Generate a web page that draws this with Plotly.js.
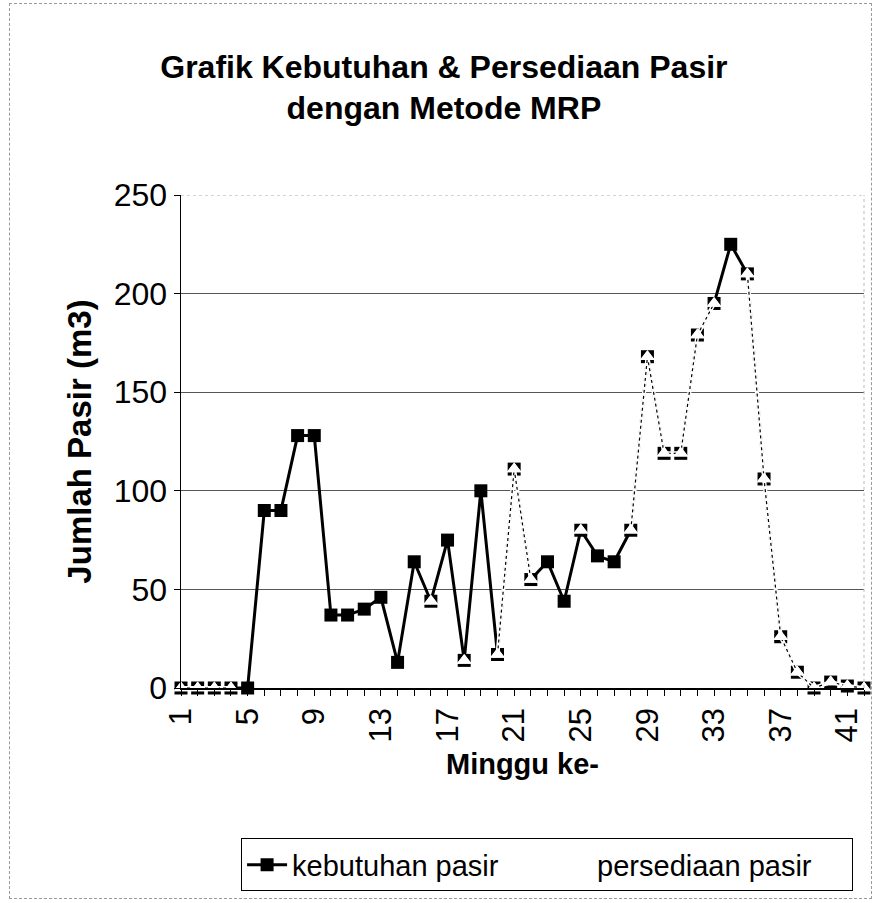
<!DOCTYPE html>
<html>
<head>
<meta charset="utf-8">
<script src="https://cdn.plot.ly/plotly-3.0.1.min.js"></script>
<style>
  html, body { margin: 0; padding: 0; background: #fff; }
  #wrap { position: relative; width: 879px; height: 903px; }
  #chart { position: absolute; left: 0; top: 0; width: 879px; height: 903px; }
  #frame { position: absolute; left: 9px; top: 3px; width: 861px; height: 894px; border: 1px dashed #9a9a9a; pointer-events: none; }
</style>
</head>
<body>
<div id="wrap">
  <div id="chart"></div>
  <div id="frame"></div>
</div>
<script>
// Minggu ke- (week number)
const weeks = [1,2,3,4,5,6,7,8,9,10,11,12,13,14,15,16,17,18,19,20,21,22,23,24,25,26,27,28,29,30,31,32,33,34,35,36,37,38,39,40,41,42];

// kebutuhan pasir (m3)
const kebutuhan = [0,0,0,0,0,90,90,128,128,37,37,40,46,13,64,44,75,14,100,17,111,55,64,44,80,67,64,80,168,119,119,179,195,225,210,106,26,8,0,3,1,0];

// persediaan pasir (m3) — only the weeks where it is shown
const persediaan = [0,0,0,0,null,null,null,null,null,null,null,null,null,null,null,44,null,14,null,17,111,55,null,null,80,null,null,80,168,119,119,179,195,null,210,106,26,8,0,3,1,0];

// axis tick labels
const xTickVals = [1,5,9,13,17,21,25,29,33,37,41];
const xTickText = ['1','5','9','13','17','21','25','29','33','37','41'];
const yTickVals = [0,50,100,150,200,250];
const yTickText = ['0','50','100','150','200','250'];

const FONT = 'Liberation Sans, Arial, Helvetica, sans-serif';

const traces = [
  {
    x: weeks, y: kebutuhan, name: 'kebutuhan pasir', type: 'scatter', mode: 'lines+markers',
    line: { color: '#000', width: 3 },
    marker: { symbol: 'square', size: 13, color: '#000' },
    cliponaxis: false
  },
  {
    x: weeks, y: persediaan, name: 'persediaan pasir', type: 'scatter', mode: 'lines+markers',
    line: { color: '#fff', width: 4 },
    marker: { symbol: 'triangle-up', size: 13, color: '#fff', line: { width: 0 } },
    connectgaps: false, cliponaxis: false
  },
  {
    x: weeks, y: persediaan, name: 'persediaan pasir', type: 'scatter', mode: 'lines+markers',
    showlegend: false,
    line: { color: '#000', width: 1.2, dash: 'dot' },
    marker: { symbol: 'triangle-up', size: 13, color: '#fff', line: { width: 0 } },
    connectgaps: false, cliponaxis: false
  }
];

const layout = {
  width: 879, height: 903,
  margin: { l: 181, r: 15, t: 195, b: 212 },
  paper_bgcolor: '#fff', plot_bgcolor: '#fff',
  font: { family: FONT, color: '#000' },
  showlegend: true,
  title: {
    text: 'Grafik Kebutuhan &amp; Persediaan Pasir<br>dengan Metode MRP',
    font: { family: FONT, size: 32, weight: 'bold', color: '#000' },
    x: 0.505, xref: 'container', xanchor: 'center',
    y: 0.914, yref: 'container', yanchor: 'top'
  },
  shapes: [
    { type: 'line', xref: 'paper', yref: 'y', x0: 0, x1: 1, y0: 250, y1: 250, line: { color: '#aaa', width: 1, dash: 'dot' } },
    { type: 'line', xref: 'paper', yref: 'paper', x0: 1, x1: 1, y0: 0, y1: 1, line: { color: '#bbb', width: 1, dash: 'dot' } }
  ],
  xaxis: {
    range: [1, 42],
    tickmode: 'array', tickvals: xTickVals, ticktext: xTickText,
    tickangle: -90,
    tickfont: { family: FONT, size: 31 },
    ticks: 'outside', ticklen: 6, tickcolor: '#000', tickwidth: 1,
    minor: { tickmode: 'linear', tick0: 1, dtick: 1, ticks: 'outside', ticklen: 6, tickcolor: '#000', showgrid: false },
    showline: true, linecolor: '#000', linewidth: 1.5,
    showgrid: false, zeroline: false,
    title: { text: 'Minggu ke-', font: { family: FONT, size: 29, weight: 'bold' }, standoff: 12 }
  },
  yaxis: {
    range: [0, 250],
    tickmode: 'array', tickvals: yTickVals, ticktext: yTickText,
    tickfont: { family: FONT, size: 32 },
    ticks: 'outside', ticklen: 6, tickcolor: '#000',
    showline: true, linecolor: '#000', linewidth: 1.5,
    showgrid: true, gridcolor: '#555', gridwidth: 1,
    zeroline: false,
    title: { text: 'Jumlah Pasir (m3)', font: { family: FONT, size: 33, weight: 'bold' }, standoff: 12 }
  },
  legend: {
    orientation: 'h',
    x: 0.536, xanchor: 'center',
    y: -0.305, yanchor: 'top',
    bordercolor: '#000', borderwidth: 1,
    bgcolor: '#fff',
    font: { family: FONT, size: 29 },
    itemwidth: 40,
    entrywidth: 250
  }
};

Plotly.newPlot('chart', traces, layout, { displayModeBar: false, staticPlot: true });
</script>
</body>
</html>
